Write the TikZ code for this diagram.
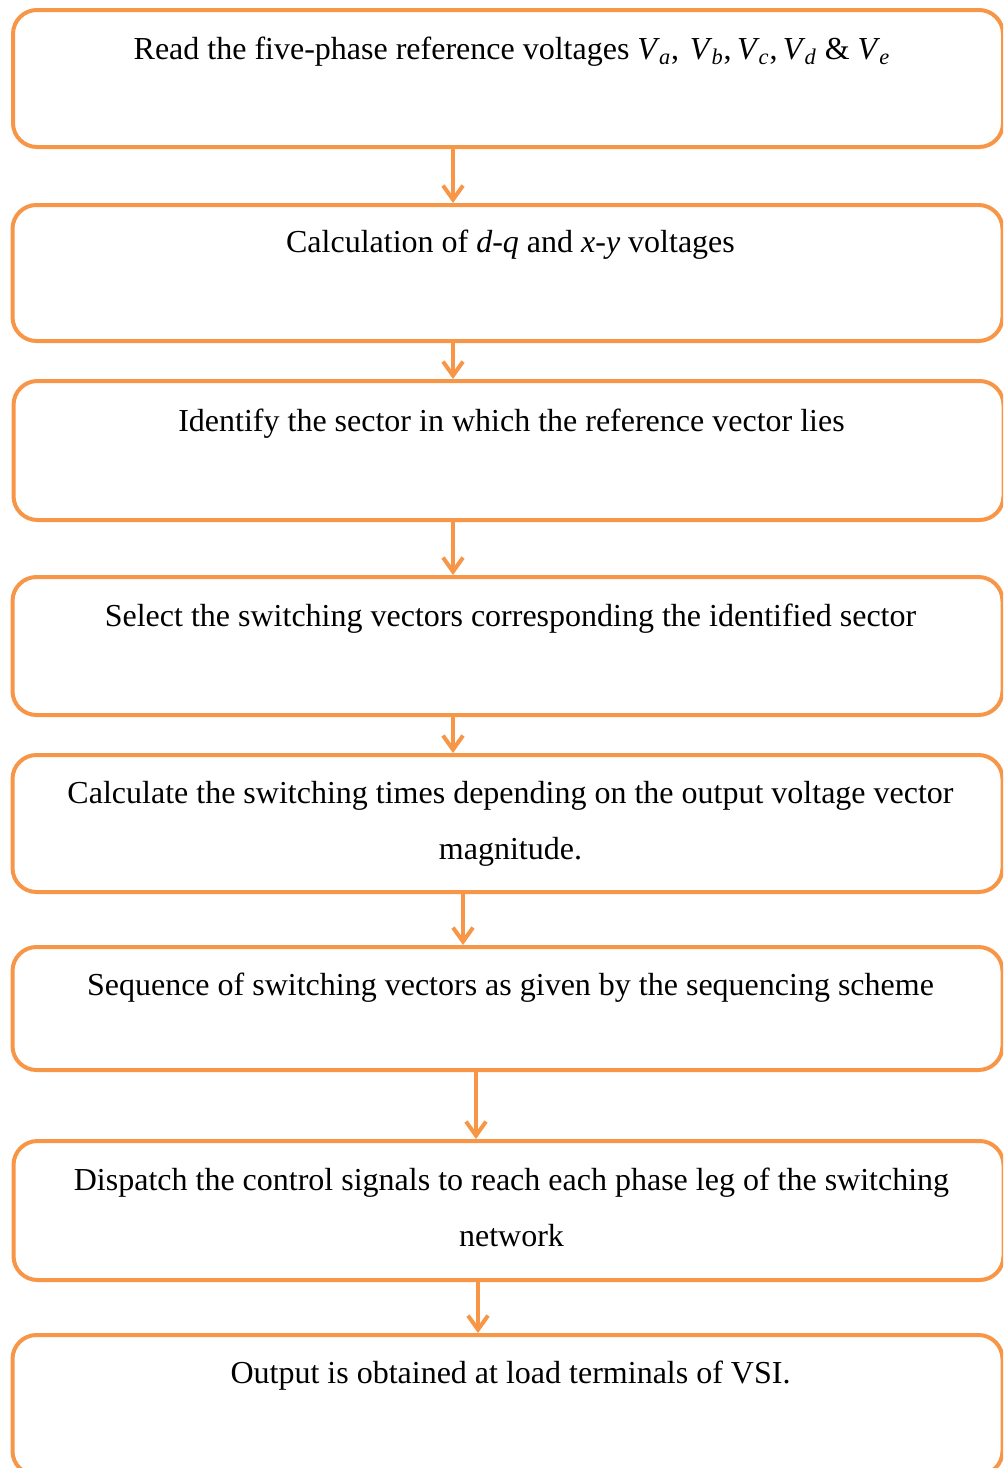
\documentclass[tikz,border=0pt]{standalone}
\usepackage{fontspec}
\setmainfont{Liberation Serif}
\usetikzlibrary{arrows.meta}
\definecolor{acc}{HTML}{F79646}
\begin{document}
\begin{tikzpicture}[x=0.5pt,y=-0.5pt,
 box/.style={draw=acc, line width=2pt, rounded corners=12pt, minimum width=495pt, inner sep=0pt},
 lbl/.style={anchor=base, align=center, font=\fontsize{16}{28}\selectfont},
 arr/.style={draw=acc, line width=2pt, -{Straight Barb[length=7pt,width=10pt,line width=2pt]}}]
\useasboundingbox (0,0) rectangle (1003,1468);
\clip (0,0) rectangle (1003,1468);
\newcommand{\vv}[1]{\textit{V}\kern-0.5pt\textsubscript{\textit{#1}}}
% boxes
\node[box, minimum height=68.5pt] (b1) at (508,78.5) {};
\node[box, minimum height=68pt]   (b2) at (507.5,273) {};
\node[box, minimum height=69.5pt] (b3) at (508.5,450.5) {};
\node[box, minimum height=69pt]   (b4) at (507.5,646) {};
\node[box, minimum height=68.5pt] (b5) at (507.5,823.5) {};
\node[box, minimum height=61.5pt] (b6) at (507.5,1008.5) {};
\node[box, minimum height=69.5pt] (b7) at (508.5,1210.5) {};
\node[box, minimum height=70pt]   (b8) at (507.5,1405) {};
% texts
\node[lbl] (t1) at ([xshift=2pt,yshift=-25.5pt]b1.north) {Read the five-phase reference voltages \vv{a},\,\,\vv{b},\,\vv{c},\,\vv{d} \& \vv{e}};
\node[lbl] (t2) at ([xshift=1.5pt,yshift=-24.5pt]b2.north) {Calculation of \textit{d-q} and \textit{x-y} voltages};
\node[lbl] (t3) at ([xshift=1.5pt,yshift=-26pt]b3.north) {Identify the sector in which the reference vector lies};
\node[lbl] (t4) at ([xshift=1.5pt,yshift=-25.5pt]b4.north) {Select the switching vectors corresponding the identified sector};
\node[lbl] (t5) at ([xshift=1.5pt,yshift=-53pt]b5.north) {Calculate the switching times depending on the output voltage vector\\magnitude.};
\node[lbl] (t6) at ([xshift=1.5pt,yshift=-25pt]b6.north) {Sequence of switching vectors as given by the sequencing scheme};
\node[lbl] (t7) at ([xshift=1.5pt,yshift=-53.5pt]b7.north) {Dispatch the control signals to reach each phase leg of the switching\\network};
\node[lbl] (t8) at ([xshift=1.5pt,yshift=-25pt]b8.north) {Output is obtained at load terminals of VSI.};
% arrow columns
\coordinate (c1) at (453,0);
\coordinate (c5) at (463,0);
\coordinate (c6) at (476,0);
\coordinate (c7) at (478,0);
\draw[arr] (b1.south -| c1) -- (b2.north -| c1);
\draw[arr] (b2.south -| c1) -- (b3.north -| c1);
\draw[arr] (b3.south -| c1) -- (b4.north -| c1);
\draw[arr] (b4.south -| c1) -- (b5.north -| c1);
\draw[arr] (b5.south -| c5) -- (b6.north -| c5);
\draw[arr] (b6.south -| c6) -- (b7.north -| c6);
\draw[arr] (b7.south -| c7) -- (b8.north -| c7);
\end{tikzpicture}
\end{document}
